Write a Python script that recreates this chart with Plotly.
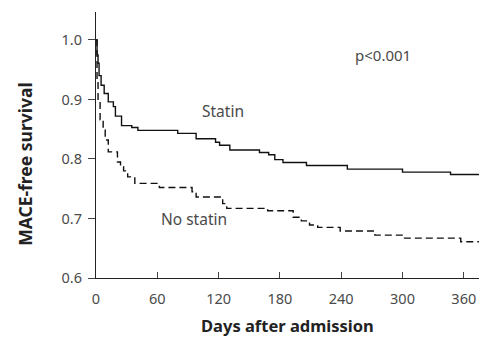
import plotly.graph_objects as go

# Kaplan-Meier step data (days, survival)
statin_days = [0, 1, 2, 3, 5, 8, 12, 17, 19, 25, 35, 41, 80, 98, 117, 121, 131, 160, 169, 175, 183, 206, 246, 300, 347, 383]
statin_surv = [1.0, 0.975, 0.961, 0.94, 0.924, 0.910, 0.896, 0.888, 0.872, 0.856, 0.853, 0.848, 0.843, 0.834, 0.828, 0.823, 0.815, 0.811, 0.807, 0.799, 0.794, 0.789, 0.783, 0.778, 0.774, 0.774]

nostatin_days = [0, 1, 2, 4, 7, 9, 12, 21, 24, 27, 31, 38, 62, 94, 98, 124, 128, 168, 193, 201, 209, 217, 239, 273, 301, 357, 383]
nostatin_surv = [1.0, 0.93, 0.896, 0.866, 0.849, 0.832, 0.812, 0.795, 0.787, 0.780, 0.770, 0.759, 0.752, 0.745, 0.736, 0.725, 0.717, 0.713, 0.702, 0.696, 0.689, 0.685, 0.679, 0.672, 0.667, 0.661, 0.661]

x_ticks = [0, 60, 120, 180, 240, 300, 360]
y_ticks = [0.6, 0.7, 0.8, 0.9, 1.0]
y_tick_labels = ["0.6", "0.7", "0.8", "0.9", "1.0"]

txt = "#4a4a4a"
font_family = "Noto Sans"

fig = go.Figure()
fig.add_trace(go.Scatter(x=statin_days, y=statin_surv, mode="lines", line_shape="hv",
                         line=dict(color="#111111", width=1.4), name="Statin", showlegend=False))
fig.add_trace(go.Scatter(x=nostatin_days, y=nostatin_surv, mode="lines", line_shape="hv",
                         line=dict(color="#111111", width=1.4, dash="7px,4px"), name="No statin", showlegend=False))

fig.add_annotation(x=124, y=0.881, text="Statin", showarrow=False,
                   font=dict(family=font_family, size=15.5, color=txt))
fig.add_annotation(x=96, y=0.699, text="No statin", showarrow=False,
                   font=dict(family=font_family, size=15.5, color=txt))
fig.add_annotation(x=281, y=0.975, text="p<0.001", showarrow=False,
                   font=dict(family=font_family, size=15, color=txt))

# axis titles placed as annotations to match the reference positions
fig.add_annotation(xref="paper", yref="paper", x=-0.182, y=0.4286, textangle=-90,
                   xanchor="center", yanchor="middle", showarrow=False,
                   text="<b>MACE-free survival</b>",
                   font=dict(family=font_family, size=17.5, color="#222222"))
fig.add_annotation(xref="paper", yref="paper", x=0.4885, y=-0.178,
                   xanchor="center", yanchor="middle", showarrow=False,
                   text="<b>Days after admission</b>",
                   font=dict(family=font_family, size=16.5, color="#222222"))

# page body has an 8px default margin, so the figure is sized/offset to compensate
fig.update_layout(
    width=479, height=329,
    margin=dict(l=88, r=0, t=4, b=59),
    plot_bgcolor="white", paper_bgcolor="white",
    font=dict(family=font_family, size=14.5, color=txt),
)
fig.update_xaxes(range=[0, 382.7], tickvals=x_ticks, ticktext=[str(v) for v in x_ticks],
                 showline=True, linecolor="#222222", linewidth=1.2,
                 ticks="inside", ticklen=6, tickcolor="#444444", tickwidth=1,
                 showgrid=False, zeroline=False, ticklabelstandoff=7)
fig.update_yaxes(range=[0.6, 1.047], tickvals=y_ticks, ticktext=y_tick_labels,
                 showline=True, linecolor="#222222", linewidth=1.2,
                 ticks="outside", ticklen=7, tickcolor="#444444", tickwidth=1,
                 showgrid=False, zeroline=False, ticklabelstandoff=3)

fig.write_html("out.html")
